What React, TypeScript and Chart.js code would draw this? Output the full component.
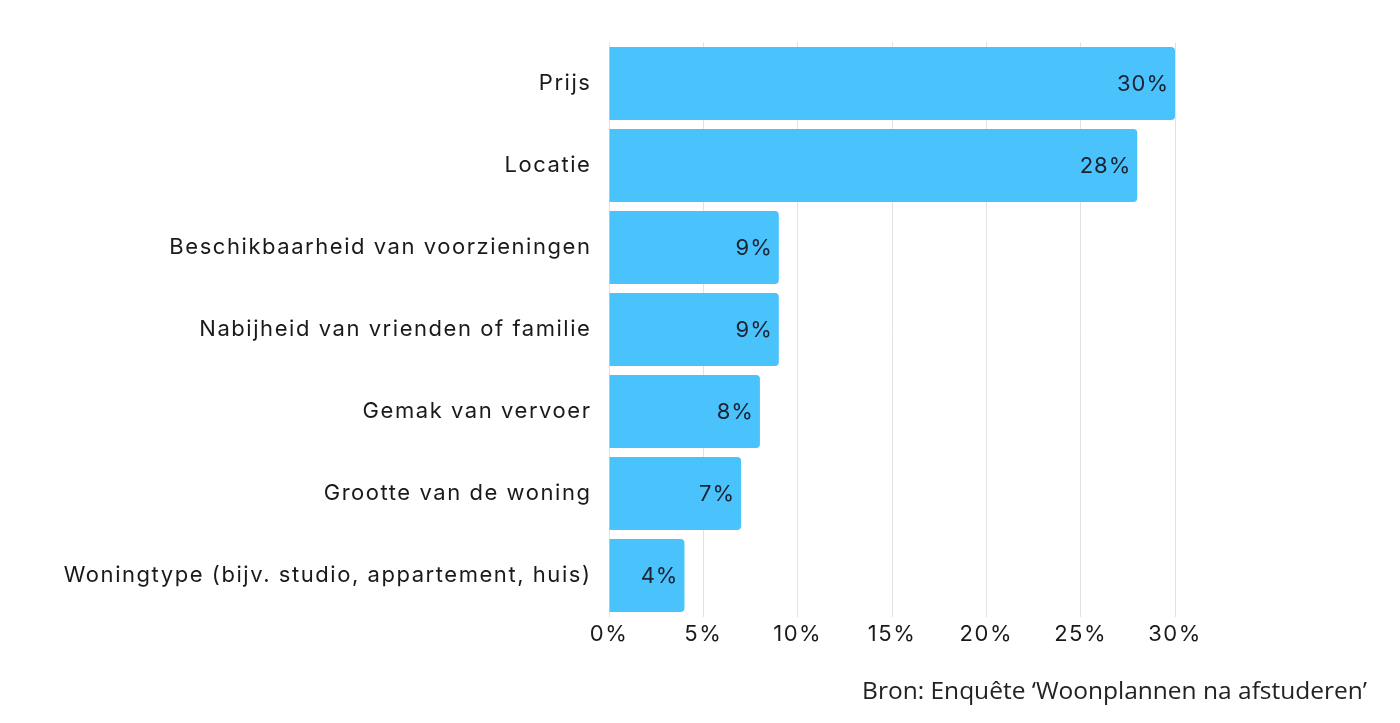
import React, { useEffect, useRef } from "react";
import { Chart, registerables } from "chart.js";

Chart.register(...registerables);

const categories = [
  "Prijs",
  "Locatie",
  "Beschikbaarheid van voorzieningen",
  "Nabijheid van vrienden of familie",
  "Gemak van vervoer",
  "Grootte van de woning",
  "Woningtype (bijv. studio, appartement, huis)",
];
const values = [30, 28, 9, 9, 8, 7, 4];
const xTicks = [0, 5, 10, 15, 20, 25, 30];
const sourceText = "Bron: Enquête ‘Woonplannen na afstuderen’";

const FONT = "Inter, 'Liberation Sans', Arial, sans-serif";
const LS = "1.55px";

export default function App() {
  const ref = useRef<HTMLCanvasElement | null>(null);
  useEffect(() => {
    const canvas = ref.current!;
    const spacingPlugin = {
      id: "spacing",
      beforeUpdate(chart: any) {
        chart.ctx.letterSpacing = LS;
      },
      beforeDraw(chart: any) {
        chart.ctx.letterSpacing = LS;
      },
    };
    const labelsPlugin = {
      id: "labels",
      afterDatasetsDraw(chart: any) {
        const ctx = chart.ctx;
        const meta = chart.getDatasetMeta(0);
        ctx.save();
        ctx.letterSpacing = "1px";
        ctx.font = `22px ${FONT}`;
        ctx.fillStyle = "#1b2232";
        ctx.textAlign = "right";
        ctx.textBaseline = "middle";
        meta.data.forEach((bar: any, i: number) => {
          ctx.fillText(values[i] + "%", bar.x - 6, bar.y + 1);
        });
        ctx.restore();
      },
      afterDraw(chart: any) {
        const ctx = chart.ctx;
        ctx.save();
        ctx.letterSpacing = "0px";
        ctx.font = `24.5px 'Open Sans', sans-serif`;
        ctx.fillStyle = "#222";
        ctx.textAlign = "right";
        ctx.textBaseline = "alphabetic";
        ctx.fillText(sourceText, 1367, 699);
        ctx.restore();
      },
    };
    const chart = new Chart(canvas, {
      type: "bar",
      data: {
        labels: categories,
        datasets: [
          {
            data: values,
            backgroundColor: "#4AC3FC",
            borderRadius: 4,
            borderSkipped: "start",
            barPercentage: 0.89,
            categoryPercentage: 1,
          },
        ],
      },
      options: {
        indexAxis: "y",
        responsive: false,
        animation: false,
        devicePixelRatio: 1,
        layout: { padding: { top: 42.5, right: 225, bottom: 0, left: 0 } },
        plugins: { legend: { display: false }, tooltip: { enabled: false } },
        scales: {
          x: {
            min: 0,
            max: 30,
            afterFit(scale: any) {
              scale.height = 106.5;
            },
            afterBuildTicks(scale: any) {
              scale.ticks = xTicks.map((v) => ({ value: v }));
            },
            grid: { color: "#e2e2e2", drawTicks: false, lineWidth: 1 },
            border: { display: false },
            ticks: {
              padding: 5,
              color: "#1a1a1a",
              font: { family: FONT, size: 22 },
              callback: (v: any) => v + "%",
            },
          },
          y: {
            afterFit(scale: any) {
              scale.width = 609;
            },
            grid: { display: false, drawTicks: false },
            border: { display: false },
            ticks: {
              padding: 17.5,
              color: "#1a1a1a",
              font: { family: FONT, size: 22 },
            },
          },
        },
      },
      plugins: [spacingPlugin, labelsPlugin],
    } as any);
    return () => chart.destroy();
  }, []);
  return (
    <div style={{ position: "fixed", left: 0, top: 0, width: 1400, height: 723, background: "#fff" }}>
      <canvas ref={ref} width={1400} height={723} />
    </div>
  );
}
